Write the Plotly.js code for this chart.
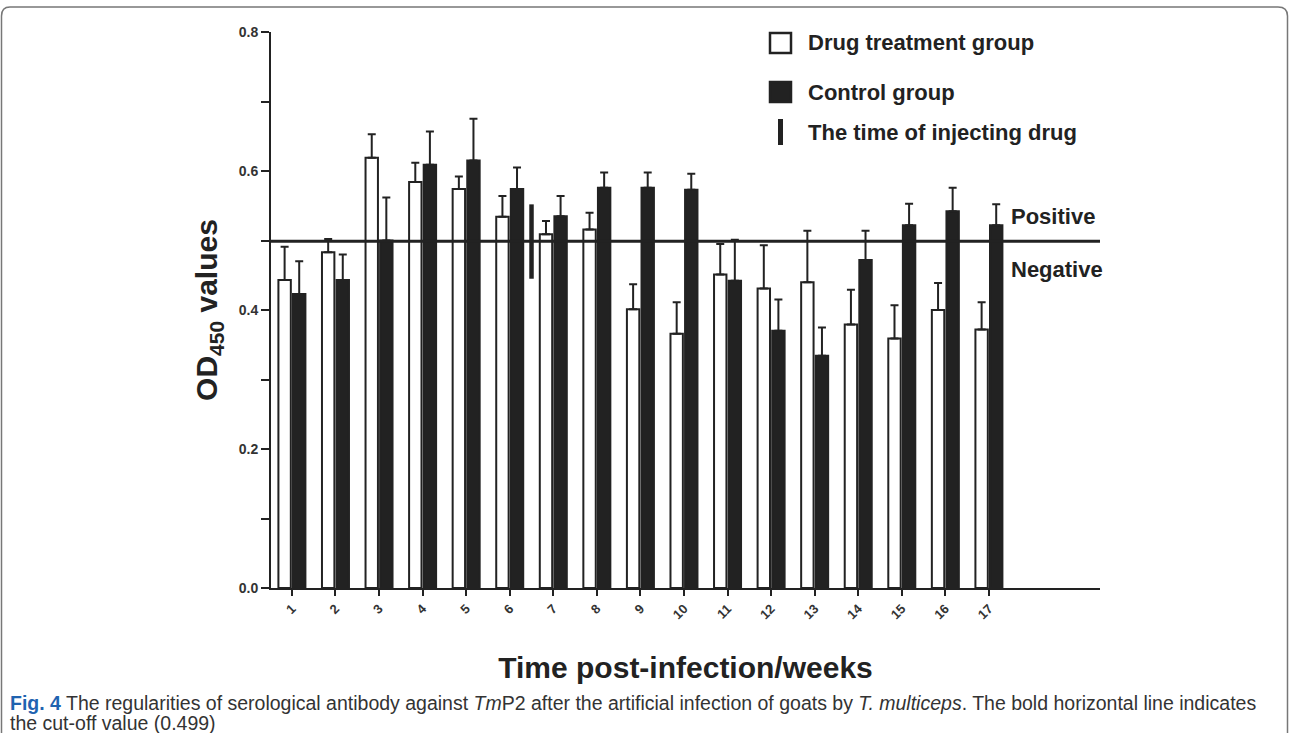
<!DOCTYPE html>
<html>
<head>
<meta charset="utf-8">
<script src="https://cdn.plot.ly/plotly-3.0.1.min.js"></script>
<style>html,body{margin:0;padding:0;background:#fff;}#chart{width:1289px;height:733px;}</style>
</head>
<body>
<div id="chart"></div>
<script>
// ---- data ----
const weeks = [1,2,3,4,5,6,7,8,9,10,11,12,13,14,15,16,17];
const drugMean = [0.443,0.483,0.619,0.584,0.574,0.534,0.509,0.516,0.401,0.366,0.451,0.431,0.440,0.379,0.359,0.400,0.372];
const drugErr  = [0.048,0.019,0.034,0.028,0.018,0.030,0.019,0.024,0.036,0.045,0.044,0.062,0.074,0.050,0.048,0.039,0.039];
const ctrlMean = [0.423,0.443,0.500,0.609,0.615,0.574,0.535,0.576,0.576,0.573,0.442,0.370,0.334,0.472,0.522,0.542,0.522];
const ctrlErr  = [0.047,0.037,0.062,0.048,0.060,0.031,0.029,0.022,0.022,0.023,0.059,0.045,0.041,0.042,0.031,0.034,0.030];
const zeros = weeks.map(() => 0);
const cutoff = 0.499;
const injectX = [6.5, 6.5];
const injectY = [0.445, 0.552];
const yTickVals = [0, 0.2, 0.4, 0.6, 0.8];
const yTickText = ['0.0', '0.2', '0.4', '0.6', '0.8'];
const xTickText = weeks.map(String);
const legendLabels = ['Drug treatment group', 'Control group', 'The time of injecting drug'];
const captionLine1 = '<b><span style="color:#1f63b0">Fig. 4</span></b> The regularities of serological antibody against <i>Tm</i>P2 after the artificial infection of goats by <i>T. multiceps</i>. The bold horizontal line indicates';
const captionLine2 = 'the cut-off value (0.499)';

// ---- layout helpers (pixel -> paper) ----
const W = 1289, H = 733;
const M = {l: 271, r: 189, t: 32, b: 145};
const pw = W - M.l - M.r, ph = H - M.t - M.b;
const px = x => (x - M.l) / pw;
const py = y => (H - M.b - y) / ph;

const ink = '#222222';
const FONT = 'Liberation Sans, Arial, sans-serif';

const traces = [
  {
    type: 'bar', name: legendLabels[0], x: weeks, y: drugMean,
    marker: {color: '#ffffff', line: {color: ink, width: 2}},
    error_y: {type: 'data', symmetric: false, array: drugErr, arrayminus: zeros, color: ink, thickness: 2, width: 4},
    showlegend: false, hoverinfo: 'x+y'
  },
  {
    type: 'bar', name: legendLabels[1], x: weeks, y: ctrlMean,
    marker: {color: ink, line: {color: ink, width: 2}},
    error_y: {type: 'data', symmetric: false, array: ctrlErr, arrayminus: zeros, color: ink, thickness: 2, width: 4},
    showlegend: false, hoverinfo: 'x+y'
  },
  {
    type: 'scatter', mode: 'lines', name: legendLabels[2], x: injectX, y: injectY,
    line: {color: ink, width: 4.5}, showlegend: false, hoverinfo: 'skip'
  }
];

const legendY = [43, 92, 132];
const legendKind = ['open', 'filled', 'bar'];

const shapes = [
  {type: 'line', xref: 'paper', yref: 'y', x0: 0, x1: 1, y0: cutoff, y1: cutoff, line: {color: ink, width: 3}, layer: 'above'},
  // figure frame (rounded box)
  {type: 'path', xref: 'paper', yref: 'paper',
   path: `M ${px(1.5)},${py(745)} L ${px(1.5)},${py(16)} Q ${px(1.5)},${py(7)} ${px(10)},${py(7)} L ${px(1278)},${py(7)} Q ${px(1287.5)},${py(7)} ${px(1287.5)},${py(16)} L ${px(1287.5)},${py(745)}`,
   line: {color: '#777', width: 1.5}}
];
const annotations = [];
legendLabels.forEach((label, i) => {
  const cy = legendY[i];
  if (legendKind[i] === 'bar') {
    shapes.push({type: 'rect', xref: 'paper', yref: 'paper', x0: px(778), x1: px(783), y0: py(cy - 13), y1: py(cy + 13),
      fillcolor: ink, line: {width: 0}});
  } else {
    shapes.push({type: 'rect', xref: 'paper', yref: 'paper', x0: px(770), x1: px(791), y0: py(cy - 10), y1: py(cy + 10),
      fillcolor: legendKind[i] === 'filled' ? ink : '#ffffff', line: {color: ink, width: 2.5}});
  }
  annotations.push({xref: 'paper', yref: 'paper', x: px(806), y: py(cy), xanchor: 'left', yanchor: 'middle',
    text: '<b>' + label + '</b>', showarrow: false, font: {family: FONT, size: 22, color: ink}});
});
annotations.push(
  {xref: 'paper', yref: 'paper', x: px(1009), y: py(216), xanchor: 'left', yanchor: 'middle', showarrow: false,
   text: '<b>Positive</b>', font: {family: FONT, size: 22, color: ink}},
  {xref: 'paper', yref: 'paper', x: px(1009), y: py(269), xanchor: 'left', yanchor: 'middle', showarrow: false,
   text: '<b>Negative</b>', font: {family: FONT, size: 22, color: ink}},
  {xref: 'paper', yref: 'paper', x: px(8), y: py(703), xanchor: 'left', yanchor: 'middle', align: 'left', showarrow: false,
   text: captionLine1, font: {family: FONT, size: 19.5, color: '#333'}},
  {xref: 'paper', yref: 'paper', x: px(8), y: py(723), xanchor: 'left', yanchor: 'middle', align: 'left', showarrow: false,
   text: captionLine2, font: {family: FONT, size: 19.5, color: '#333'}}
);

const layout = {
  width: W, height: H,
  margin: M,
  paper_bgcolor: '#ffffff', plot_bgcolor: '#ffffff',
  barmode: 'group', bargap: 0.33, bargroupgap: 0.15,
  showlegend: false,
  font: {family: FONT, color: ink},
  xaxis: {
    range: [0.52, 19.55], tickvals: weeks, ticktext: xTickText.map(t => '<b>' + t + '</b>'), tickangle: -45,
    ticks: 'outside', ticklen: 6, tickwidth: 2, tickcolor: ink,
    showline: true, linecolor: ink, linewidth: 2, showgrid: false, zeroline: false,
    tickfont: {family: FONT, size: 13, color: '#333'},
    title: {text: '<b>Time post-infection/weeks</b>', font: {family: FONT, size: 30, color: ink}, standoff: 36},
    automargin: false
  },
  yaxis: {
    range: [0, 0.8], tickvals: yTickVals, ticktext: yTickText.map(t => '<b>' + t + '</b>'),
    ticks: 'outside', ticklen: 8, tickwidth: 2, tickcolor: ink,
    minor: {dtick: 0.1, tick0: 0, ticks: 'outside', ticklen: 8, tickwidth: 2, tickcolor: ink, showgrid: false},
    showline: true, linecolor: ink, linewidth: 2, showgrid: false, zeroline: false,
    tickfont: {family: FONT, size: 14, color: '#333'},
    title: {text: '<b>OD<sub>450</sub> values</b>', font: {family: FONT, size: 30, color: ink}, standoff: 12},
    automargin: false
  },
  shapes: shapes,
  annotations: annotations
};

Plotly.newPlot('chart', traces, layout, {displayModeBar: false, staticPlot: true});
</script>
</body>
</html>
